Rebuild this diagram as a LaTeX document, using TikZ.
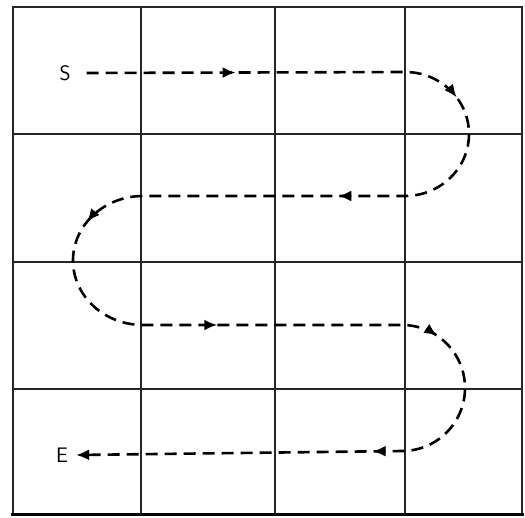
\documentclass[tikz,border=0pt]{standalone}
\usetikzlibrary{arrows.meta,decorations.markings}
\begin{document}
\begin{tikzpicture}[x=1pt,y=1pt,
  gridline/.style={line width=1.4pt,black!85},
  pathline/.style={line width=2.6pt,dash pattern=on 12pt off 7pt},
  lbl/.style={font=\sffamily\fontsize{21}{21}\selectfont,inner sep=0pt},
  headtip/.style={-{Latex[length=13pt,width=11pt]}},
  midarrows/.style={postaction={decorate},
    decoration={markings,
      mark=at position 149pt with {\arrow{Latex[length=13pt,width=11pt]}},
      mark=at position 378pt with {\arrow{Latex[length=13pt,width=11pt]}},
      mark=at position 583pt with {\arrow{Latex[length=13pt,width=11pt]}},
      mark=at position 842pt with {\arrow{Latex[length=13pt,width=11pt]}},
      mark=at position 1064pt with {\arrow{Latex[length=13pt,width=11pt]}},
      mark=at position 1286pt with {\arrow{Latex[length=13pt,width=11pt]}},
      mark=at position 1476pt with {\arrow{Latex[length=13pt,width=11pt]}}}}]
\useasboundingbox (0,0) rectangle (525,517);
% grid
\draw[gridline] (13,3) rectangle (522,510);
\draw[line width=3pt] (11,3) -- (524,3);
\foreach \gx in {141,275,405} \draw[gridline] (\gx,3) -- (\gx,510);
\foreach \gy in {383,255,128} \draw[gridline] (13,\gy) -- (522,\gy);
% labels
\node[lbl] (S) at (65,444) {S};
\node[lbl] (E) at (62,62) {E};
% path
\draw[pathline,headtip,midarrows]
  ([xshift=16pt]S.east) -- (405,445)
  arc[start angle=90,end angle=-90,x radius=64,y radius=62] -- (143,321)
  arc[start angle=90,end angle=270,x radius=70,y radius=64.5] -- (402,192)
  arc[start angle=90,end angle=-90,x radius=63,y radius=63] -- ([xshift=8pt]E.east);
\end{tikzpicture}
\end{document}
